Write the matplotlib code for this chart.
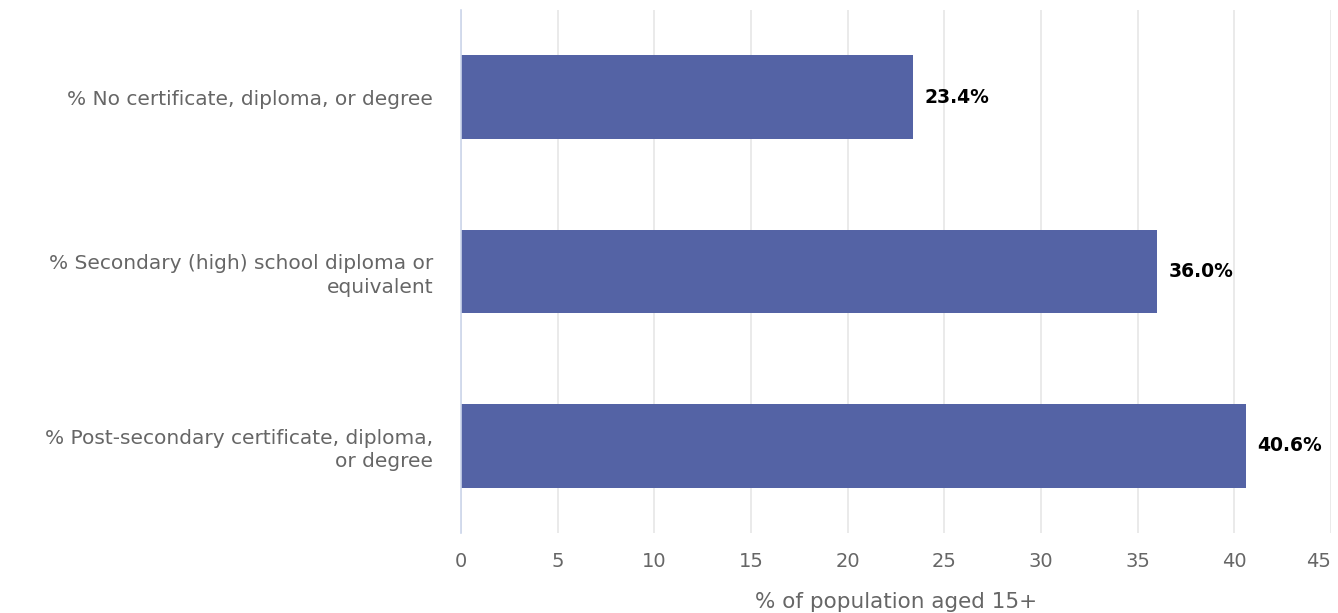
import numpy as np
import matplotlib.pyplot as plt

categories = ["% No certificate, diploma, or degree",
              "% Secondary (high) school diploma or\nequivalent",
              "% Post-secondary certificate, diploma,\nor degree"]
values = [23.4, 36.0, 40.6]
xticks = [0, 5, 10, 15, 20, 25, 30, 35, 40, 45]

plt.rcParams['font.family'] = ['DejaVu Sans']

fig = plt.figure(figsize=(13.38, 6.13), dpi=100)
ax = fig.add_axes([0.3445, 0.1305, 0.6503, 0.8532])

y = np.arange(len(categories))
ax.barh(y, values, height=0.48, color='#5463a5', zorder=3)
for yi, v in zip(y, values):
    ax.text(v + 0.6, yi, '%.1f%%' % v, va='center', ha='left',
            fontsize=13.5, color='black', fontweight='bold')

ax.set_xlim(0, 45)
ax.set_ylim(2.5, -0.5)
ax.set_xticks(xticks)
ax.set_yticks(y)
ax.set_yticklabels(categories, fontsize=14.5, color='#666666', linespacing=1.3)
ax.tick_params(axis='x', labelsize=14, labelcolor='#666666', length=0, pad=14)
ax.tick_params(axis='y', length=0, pad=20)
# last tick label pulled inside the figure
ax.get_xticklabels()[-1].set_horizontalalignment('right')
ax.get_xticklabels()[-1].set_x(44.6)
ax.grid(axis='x', color='#e6e6e6', linewidth=1.2, zorder=0)
for s in ['top', 'right', 'bottom']:
    ax.spines[s].set_visible(False)
ax.spines['left'].set_color('#ccd6eb')
ax.spines['left'].set_linewidth(1.2)
ax.spines['left'].set_zorder(4)
ax.set_xlabel('% of population aged 15+', fontsize=15.5, color='#666666', labelpad=15)

fig.savefig('out.png', dpi=100)
